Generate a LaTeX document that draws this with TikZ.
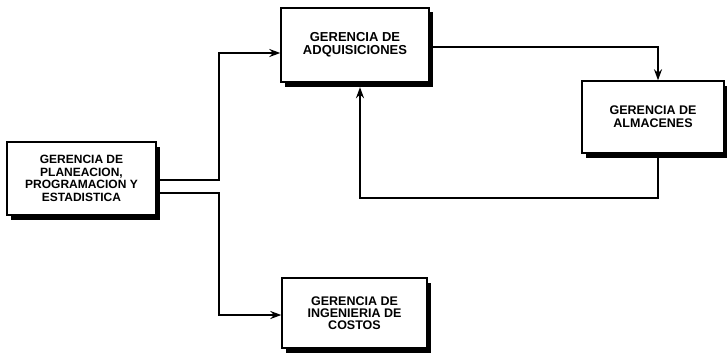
\documentclass[tikz,border=0pt]{standalone}
\usepackage{fontspec}
\setmainfont{Liberation Sans}
\usetikzlibrary{arrows.meta,shadows}
\tikzset{
	gerencia/.style={draw, line width=1.4pt, fill=white, align=center, inner sep=0pt,
		font=\bfseries\fontsize{12.5}{13}\selectfont,
		drop shadow={shadow xshift=3.5pt, shadow yshift=-4.5pt, fill=black, opacity=1}},
	flujo/.style={line width=1.7pt, -{Stealth[length=11pt,width=8pt]}}
}

\begin{document}
\begin{tikzpicture}[x=1pt, y=-1pt]
		%%%%% START %%%%%
		\useasboundingbox (0,0) rectangle (727,353);
		
		\node[gerencia, minimum width=149pt, minimum height=73pt,
			font=\bfseries\fontsize{12}{12.5}\selectfont] (planeacion) at (81.5,178.5)
			{GERENCIA DE\\PLANEACION,\\PROGRAMACION Y\\ESTADISTICA};
		\node[gerencia, minimum width=148pt, minimum height=74pt,
			font=\bfseries\fontsize{13}{13.3}\selectfont] (adquisiciones) at (355,45)
			{GERENCIA DE\\ADQUISICIONES};
		\node[gerencia, minimum width=142pt, minimum height=72pt] (almacenes) at (653,117)
			{GERENCIA DE\\ALMACENES};
		\node[gerencia, minimum width=145pt, minimum height=70pt,
			font=\bfseries\fontsize{12.5}{11.7}\selectfont] (costos) at (354.5,313)
			{GERENCIA DE\\INGENIERIA DE\\COSTOS};
		
		\draw[flujo] ([yshift=-1.5pt]planeacion.east) -| ([xshift=-61pt,yshift=-8pt]adquisiciones.west)
			-- ([yshift=-8pt]adquisiciones.west);
		\draw[flujo] ([yshift=-14.5pt]planeacion.east) -| ([xshift=-62pt,yshift=-2pt]costos.west)
			-- ([yshift=-2pt]costos.west);
		
		\draw[flujo] ([yshift=-2pt]adquisiciones.east) -| ([xshift=5pt]almacenes.north);
		\draw[flujo] ([xshift=5pt,yshift=-4.5pt]almacenes.south) -- ++(0,40)
			-| ([xshift=5pt,yshift=-4.5pt]adquisiciones.south);
		%%%%% END %%%%%
	\end{tikzpicture}
\end{document}
